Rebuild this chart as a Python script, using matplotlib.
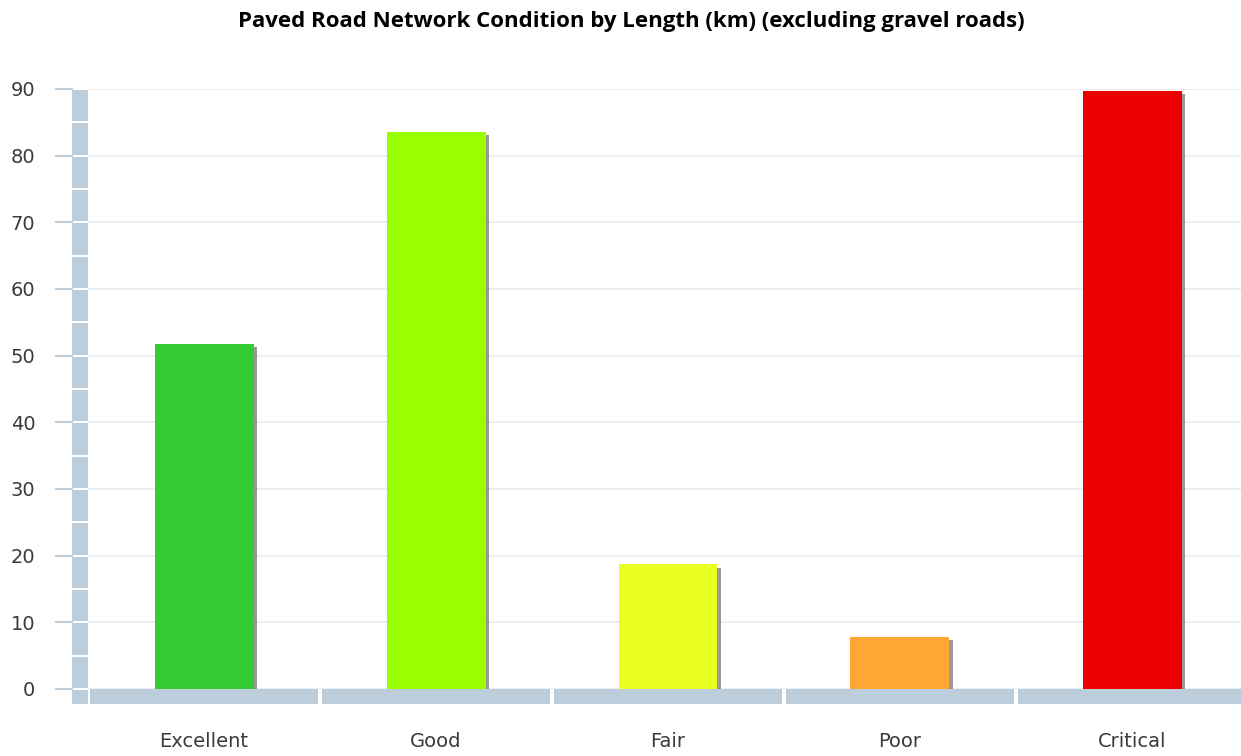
import matplotlib
matplotlib.use("Agg")
from matplotlib import pyplot as plt
from matplotlib import patheffects as pe
from matplotlib.patches import Rectangle

categories = ["Excellent", "Good", "Fair", "Poor", "Critical"]
lengths_km = [51.8, 83.6, 18.7, 7.8, 89.7]
bar_colors = ["#33cc33", "#99ff00", "#eaff22", "#ffa733", "#ee0000"]
y_ticks = list(range(0, 91, 10))

W, H = 1241, 756
BAND = "#bccddc"
GRID = "#e8ecf0"

fig = plt.figure(figsize=(W / 100, H / 100), dpi=100)
ax = fig.add_axes([88 / W, 67 / H, 1153 / W, 600 / H])
ax.set_xlim(-0.5, -0.5 + 1153 / 232)
ax.set_ylim(0, 90)

# grid lines
for v in y_ticks:
    ax.axhline(v, color=GRID, lw=1.2, zorder=0)

shadow = [pe.SimplePatchShadow(offset=(2.2, -2.5), shadow_rgbFace="#555555", alpha=0.6), pe.Normal()]
ax.bar(range(len(categories)), lengths_km, width=99 / 232, color=bar_colors,
       zorder=2, path_effects=shadow)

px = 1 / 1153  # axes fraction per pixel (x)
py = 1 / 600   # axes fraction per pixel (y)

# vertical band on the left, segmented every 5 units
for v in range(0, 90, 5):
    ax.add_patch(Rectangle((-16 * px, v / 90 + 1 * py), 16 * px, 5 / 90 - 2 * py,
                           transform=ax.transAxes, color=BAND, clip_on=False, zorder=3, lw=0))
ax.add_patch(Rectangle((-16 * px, -15 * py), 16 * px, 14 * py,
                       transform=ax.transAxes, color=BAND, clip_on=False, zorder=3, lw=0))

# tick marks left of band
for v in y_ticks:
    ax.plot([-32 * px, -16 * px], [v / 90, v / 90], transform=ax.transAxes,
            color=BAND, lw=1.5, clip_on=False, zorder=3)

# horizontal band at the bottom, one piece per category
trans = ax.get_xaxis_transform()
for i in range(len(categories)):
    ax.add_patch(Rectangle((i - 0.5 + 2 / 232, -15 * py), 1 - 4 / 232, 15 * py,
                           transform=trans, color=BAND, clip_on=False, zorder=3, lw=0))

for s in ax.spines.values():
    s.set_visible(False)

ax.set_yticks(y_ticks)
ax.set_yticklabels([str(v) for v in y_ticks], fontsize=14, color="#3a3a3a", family="DejaVu Sans")
ax.tick_params(axis="y", length=0, pad=38)
ax.set_xticks(range(len(categories)))
ax.set_xticklabels(categories, fontsize=14, color="#3a3a3a", family="DejaVu Sans")
ax.tick_params(axis="x", length=0, pad=31)

fig.text(631 / W, 1 - 21 / H, "Paved Road Network Condition by Length (km) (excluding gravel roads)",
         ha="center", va="center", fontsize=16, fontweight="bold", family="Open Sans")

fig.savefig("out.png", dpi=100)
